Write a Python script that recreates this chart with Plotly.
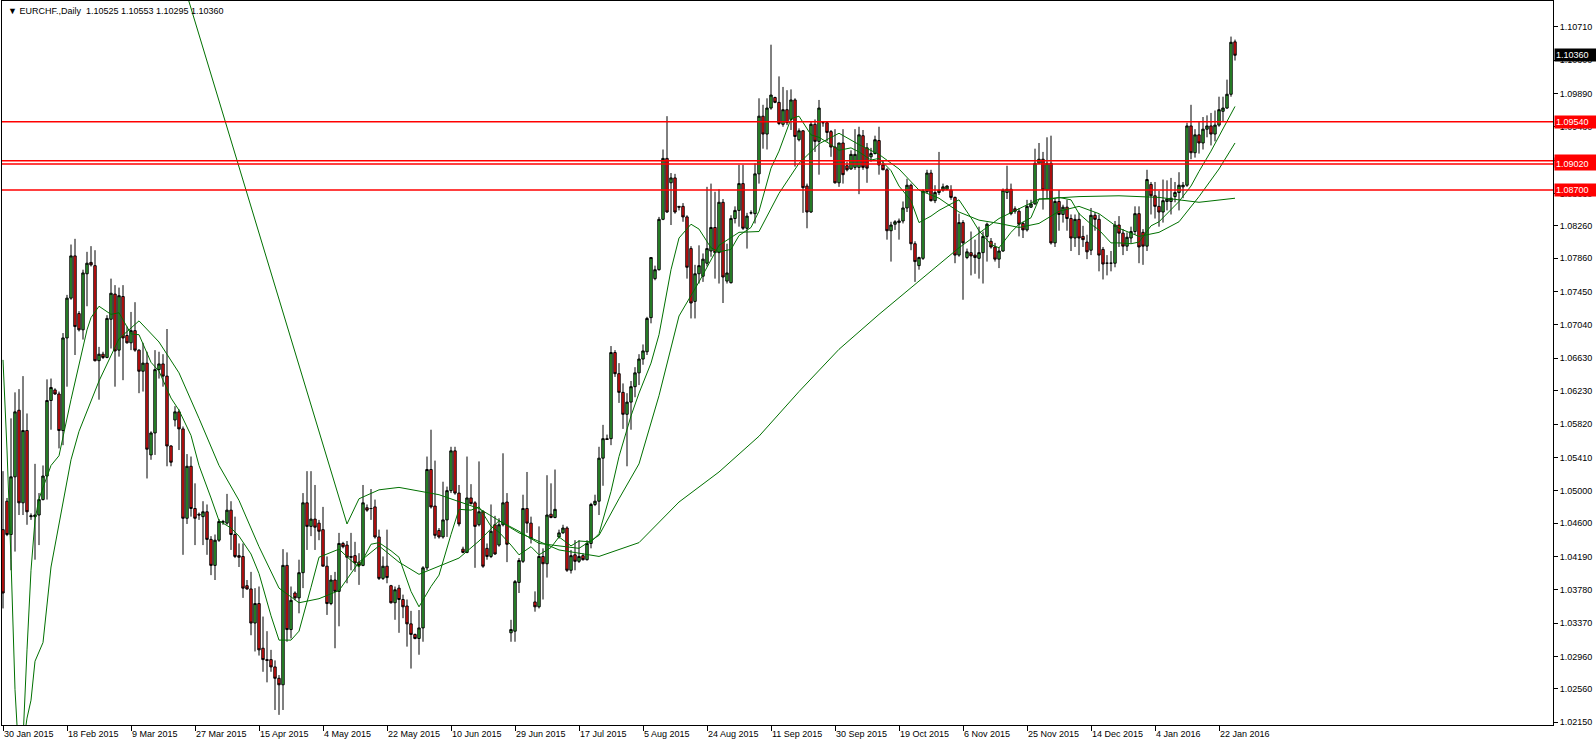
import plotly.graph_objects as go

# ---------------- data (EURCHF daily) ----------------
open_ = [1.0452,1.0487,1.0446,1.0517,1.0599,1.0485,1.0574,1.0468,1.0468,1.0470,
1.0489,1.0518,1.0611,1.0624,1.0619,1.0574,1.0688,1.0737,1.0789,1.0718,
1.0698,1.0767,1.0781,1.0777,1.0660,1.0668,1.0664,1.0711,1.0742,1.0673,
1.0739,1.0691,1.0682,1.0697,1.0673,1.0647,1.0657,1.0544,1.0571,1.0649,
1.0656,1.0641,1.0555,1.0587,1.0597,1.0576,1.0466,1.0530,1.0478,1.0471,
1.0468,1.0474,1.0440,1.0408,1.0439,1.0461,1.0460,1.0476,1.0446,1.0420,
1.0419,1.0383,1.0379,1.0337,1.0361,1.0306,1.0292,1.0292,1.0283,1.0269,
1.0261,1.0408,1.0329,1.0374,1.0368,1.0399,1.0485,1.0456,1.0465,1.0460,
1.0452,1.0407,1.0361,1.0390,1.0376,1.0435,1.0433,1.0419,1.0420,1.0412,
1.0408,1.0479,1.0478,1.0480,1.0443,1.0392,1.0407,1.0383,1.0362,1.0380,
1.0366,1.0358,1.0336,1.0323,1.0318,1.0331,1.0405,1.0526,1.0481,1.0451,
1.0443,1.0464,1.0500,1.0549,1.0497,1.0428,1.0424,1.0491,1.0485,1.0458,
1.0474,1.0429,1.0419,1.0458,1.0433,1.0458,1.0486,1.0325,1.0327,1.0387,
1.0413,1.0478,1.0460,1.0363,1.0357,1.0419,1.0410,1.0471,1.0467,1.0443,
1.0448,1.0454,1.0402,1.0421,1.0413,1.0420,1.0415,1.0435,1.0483,1.0487,
1.0540,1.0564,1.0564,1.0670,1.0644,1.0621,1.0594,1.0609,1.0628,1.0645,
1.0662,1.0671,1.0713,1.0761,1.0772,1.0834,1.0909,1.0879,1.0885,1.0850,
1.0850,1.0837,1.0798,1.0733,1.0767,1.0764,1.0780,1.0795,1.0824,1.0793,
1.0855,1.0758,1.0756,1.0835,1.0845,1.0878,1.0823,1.0842,1.0841,1.0890,
1.0961,1.0939,1.0971,1.0984,1.0978,1.0951,1.0969,1.0957,1.0981,1.0932,
1.0943,1.0875,1.0843,1.0951,1.0930,1.0953,1.0953,1.0942,1.0923,1.0879,
1.0928,1.0900,1.0896,1.0898,1.0898,1.0937,1.0922,1.0911,1.0915,1.0931,
1.0901,1.0895,1.0820,1.0828,1.0830,1.0832,1.0848,1.0876,1.0804,1.0777,
1.0786,1.0868,1.0891,1.0857,1.0867,1.0870,1.0871,1.0870,1.0861,1.0790,
1.0830,1.0787,1.0793,1.0790,1.0786,1.0793,1.0813,1.0807,1.0800,1.0785,
1.0795,1.0867,1.0871,1.0847,1.0844,1.0829,1.0821,1.0849,1.0853,1.0903,
1.0908,1.0870,1.0903,1.0805,1.0856,1.0840,1.0849,1.0835,1.0811,1.0834,
1.0813,1.0806,1.0796,1.0839,1.0834,1.0797,1.0780,1.0780,1.0780,1.0827,
1.0817,1.0801,1.0811,1.0819,1.0841,1.0818,1.0801,1.0877,1.0863,1.0850,
1.0843,1.0856,1.0856,1.0862,1.0867,1.0874,1.0876,1.0949,1.0916,1.0938,
1.0928,1.0945,1.0949,1.0939,1.0950,1.0967,1.0971,1.0988,1.10525]

high = [1.0524,1.0491,1.0589,1.0621,1.0625,1.0641,1.0595,1.0472,1.0533,1.0497,
1.0531,1.0637,1.0638,1.0626,1.0622,1.0694,1.0741,1.0803,1.0810,1.0721,
1.0772,1.0794,1.0801,1.0796,1.0677,1.0671,1.0716,1.0761,1.0753,1.0750,
1.0753,1.0702,1.0720,1.0732,1.0674,1.0682,1.0671,1.0573,1.0673,1.0671,
1.0668,1.0699,1.0556,1.0604,1.0600,1.0579,1.0545,1.0542,1.0509,1.0473,
1.0487,1.0483,1.0444,1.0446,1.0465,1.0464,1.0496,1.0487,1.0468,1.0435,
1.0435,1.0390,1.0400,1.0380,1.0382,1.0345,1.0327,1.0304,1.0291,1.0273,
1.0428,1.0424,1.0382,1.0376,1.0415,1.0497,1.0524,1.0524,1.0507,1.0464,
1.0480,1.0419,1.0396,1.0400,1.0448,1.0437,1.0438,1.0448,1.0437,1.0423,
1.0507,1.0483,1.0502,1.0489,1.0452,1.0419,1.0452,1.0384,1.0382,1.0384,
1.0372,1.0366,1.0352,1.0324,1.0353,1.0407,1.0542,1.0575,1.0537,1.0454,
1.0511,1.0505,1.0554,1.0554,1.0507,1.0431,1.0542,1.0508,1.0487,1.0536,
1.0476,1.0435,1.0483,1.0469,1.0466,1.0546,1.0497,1.0341,1.0390,1.0417,
1.0495,1.0523,1.0468,1.0376,1.0456,1.0429,1.0519,1.0509,1.0526,1.0452,
1.0458,1.0456,1.0427,1.0439,1.0439,1.0423,1.0439,1.0485,1.0495,1.0554,
1.0581,1.0569,1.0678,1.0673,1.0657,1.0632,1.0620,1.0635,1.0652,1.0668,
1.0680,1.0714,1.0787,1.0777,1.0837,1.0920,1.0961,1.0891,1.0890,1.0850,
1.0854,1.0839,1.0801,1.0778,1.0802,1.0792,1.0874,1.0878,1.0868,1.0871,
1.0859,1.0804,1.0839,1.0850,1.0901,1.0901,1.0842,1.0845,1.0903,1.0983,
1.0975,1.0983,1.1049,1.0985,1.1010,1.0997,1.0993,1.0994,1.0983,1.0946,
1.0944,1.0878,1.0955,1.0957,1.0981,1.0955,1.0954,1.0944,1.0945,1.0928,
1.0945,1.0905,1.0919,1.0945,1.0948,1.0944,1.0928,1.0922,1.0937,1.0948,
1.0906,1.0897,1.0831,1.0833,1.0835,1.0856,1.0884,1.0878,1.0807,1.0788,
1.0871,1.0895,1.0895,1.0876,1.0917,1.0878,1.0876,1.0876,1.0862,1.0841,
1.0833,1.0798,1.0819,1.0809,1.0825,1.0819,1.0830,1.0811,1.0805,1.0800,
1.0872,1.0900,1.0878,1.0850,1.0848,1.0831,1.0858,1.0858,1.0921,1.0928,
1.0917,1.0935,1.0937,1.0860,1.0870,1.0852,1.0858,1.0840,1.0840,1.0842,
1.0826,1.0815,1.0848,1.0843,1.0840,1.0800,1.0790,1.0795,1.0832,1.0838,
1.0822,1.0818,1.0825,1.0850,1.0850,1.0822,1.0895,1.0880,1.0880,1.0869,
1.0883,1.0882,1.0885,1.0880,1.0892,1.0880,1.0953,1.0975,1.0945,1.0955,
1.0960,1.0962,1.0965,1.0968,1.0985,1.0985,1.1006,1.1059,1.10553]

low = [1.0355,1.0444,1.0402,1.0425,1.0470,1.0470,1.0458,1.0464,1.0415,1.0433,
1.0488,1.0489,1.0575,1.0618,1.0552,1.0556,1.0628,1.0735,1.0667,1.0696,
1.0686,1.0727,1.0776,1.0659,1.0612,1.0662,1.0663,1.0675,1.0628,1.0665,
1.0636,1.0681,1.0673,1.0671,1.0620,1.0622,1.0515,1.0538,1.0544,1.0638,
1.0628,1.0530,1.0530,1.0579,1.0550,1.0421,1.0459,1.0468,1.0433,1.0464,
1.0433,1.0421,1.0396,1.0390,1.0437,1.0458,1.0458,1.0427,1.0417,1.0406,
1.0368,1.0378,1.0322,1.0302,1.0297,1.0277,1.0264,1.0277,1.0230,1.0224,
1.0230,1.0314,1.0318,1.0365,1.0349,1.0380,1.0427,1.0444,1.0427,1.0439,
1.0407,1.0347,1.0359,1.0306,1.0333,1.0429,1.0386,1.0402,1.0400,1.0384,
1.0407,1.0474,1.0464,1.0441,1.0390,1.0390,1.0386,1.0361,1.0341,1.0325,
1.0343,1.0308,1.0281,1.0317,1.0298,1.0314,1.0402,1.0478,1.0441,1.0441,
1.0441,1.0443,1.0497,1.0495,1.0456,1.0423,1.0423,1.0483,1.0405,1.0456,
1.0405,1.0415,1.0417,1.0421,1.0431,1.0456,1.0412,1.0314,1.0314,1.0374,
1.0411,1.0448,1.0435,1.0351,1.0355,1.0366,1.0393,1.0466,1.0466,1.0441,
1.0447,1.0400,1.0398,1.0402,1.0411,1.0414,1.0414,1.0429,1.0481,1.0470,
1.0506,1.0563,1.0556,1.0640,1.0608,1.0576,1.0530,1.0575,1.0615,1.0630,
1.0655,1.0667,1.0706,1.0759,1.0771,1.0833,1.0842,1.0827,1.0841,1.0845,
1.0831,1.0761,1.0712,1.0712,1.0755,1.0757,1.0776,1.0788,1.0761,1.0755,
1.0731,1.0755,1.0755,1.0829,1.0825,1.0821,1.0798,1.0840,1.0829,1.0878,
1.0921,1.0920,1.0969,1.0977,1.0950,1.0948,1.0950,1.0944,1.0899,1.0930,
1.0842,1.0823,1.0842,1.0917,1.0889,1.0948,1.0930,1.0911,1.0878,1.0874,
1.0878,1.0893,1.0895,1.0895,1.0865,1.0895,1.0879,1.0905,1.0914,1.0889,
1.0895,1.0809,1.0782,1.0821,1.0809,1.0829,1.0843,1.0796,1.0757,1.0772,
1.0784,1.0866,1.0856,1.0854,1.0864,1.0868,1.0870,1.0858,1.0780,1.0788,
1.0735,1.0785,1.0765,1.0767,1.0761,1.0755,1.0782,1.0798,1.0782,1.0774,
1.0794,1.0859,1.0839,1.0841,1.0813,1.0811,1.0819,1.0848,1.0852,1.0903,
1.0846,1.0860,1.0803,1.0800,1.0820,1.0830,1.0820,1.0795,1.0800,1.0790,
1.0800,1.0785,1.0790,1.0820,1.0770,1.0760,1.0765,1.0770,1.0775,1.0800,
1.0790,1.0795,1.0805,1.0815,1.0780,1.0778,1.0795,1.0840,1.0835,1.0825,
1.0830,1.0845,1.0840,1.0855,1.0845,1.0860,1.0874,1.0908,1.0910,1.0915,
1.0920,1.0935,1.0925,1.0930,1.0948,1.0955,1.0970,1.0985,1.10295]

close = [1.0374,1.0446,1.0517,1.0597,1.0485,1.0574,1.0474,1.0469,1.0470,1.0489,
1.0518,1.0611,1.0627,1.0619,1.0574,1.0688,1.0737,1.0789,1.0702,1.0698,
1.0768,1.0780,1.0778,1.0660,1.0668,1.0664,1.0712,1.0743,1.0672,1.0740,
1.0688,1.0682,1.0697,1.0673,1.0647,1.0657,1.0551,1.0571,1.0649,1.0656,
1.0641,1.0555,1.0535,1.0597,1.0576,1.0466,1.0530,1.0478,1.0466,1.0470,
1.0474,1.0440,1.0408,1.0439,1.0462,1.0462,1.0476,1.0446,1.0419,1.0418,
1.0380,1.0379,1.0337,1.0361,1.0304,1.0292,1.0291,1.0283,1.0269,1.0261,
1.0408,1.0329,1.0365,1.0368,1.0399,1.0485,1.0456,1.0465,1.0455,1.0450,
1.0407,1.0361,1.0390,1.0376,1.0435,1.0431,1.0418,1.0418,1.0411,1.0408,
1.0485,1.0476,1.0478,1.0443,1.0392,1.0407,1.0393,1.0362,1.0378,1.0366,
1.0357,1.0336,1.0323,1.0318,1.0331,1.0405,1.0526,1.0480,1.0445,1.0443,
1.0464,1.0500,1.0549,1.0497,1.0459,1.0424,1.0491,1.0484,1.0456,1.0474,
1.0407,1.0419,1.0450,1.0422,1.0458,1.0485,1.0434,1.0329,1.0388,1.0414,
1.0478,1.0460,1.0441,1.0357,1.0419,1.0410,1.0470,1.0467,1.0477,1.0448,
1.0454,1.0402,1.0420,1.0413,1.0419,1.0415,1.0435,1.0483,1.0487,1.0540,
1.0564,1.0563,1.0670,1.0644,1.0621,1.0594,1.0609,1.0628,1.0645,1.0662,
1.0672,1.0712,1.0787,1.0772,1.0834,1.0909,1.0843,1.0885,1.0843,1.0849,
1.0837,1.0775,1.0731,1.0767,1.0777,1.0785,1.0798,1.0824,1.0793,1.0855,
1.0763,1.0768,1.0835,1.0845,1.0878,1.0823,1.0838,1.0842,1.0890,1.0961,
1.0939,1.0971,1.0987,1.0978,1.0952,1.0969,1.0953,1.0981,1.0936,1.0943,
1.0873,1.0843,1.0951,1.0930,1.0971,1.0953,1.0941,1.0923,1.0879,1.0928,
1.0889,1.0895,1.0914,1.0914,1.0938,1.0898,1.0897,1.0915,1.0932,1.0901,
1.0895,1.0820,1.0827,1.0831,1.0832,1.0848,1.0876,1.0804,1.0782,1.0787,
1.0869,1.0891,1.0857,1.0867,1.0870,1.0874,1.0875,1.0861,1.0790,1.0830,
1.0805,1.0794,1.0789,1.0787,1.0793,1.0813,1.0828,1.0800,1.0785,1.0795,
1.0870,1.0871,1.0841,1.0844,1.0828,1.0821,1.0850,1.0853,1.0903,1.0908,
1.0870,1.0903,1.0805,1.0856,1.0840,1.0849,1.0835,1.0811,1.0834,1.0811,
1.0809,1.0794,1.0839,1.0834,1.0790,1.0779,1.0780,1.0780,1.0827,1.0817,
1.0801,1.0812,1.0819,1.0841,1.0800,1.0801,1.0883,1.0863,1.0850,1.0843,
1.0857,1.0859,1.0860,1.0867,1.0876,1.0876,1.0949,1.0916,1.0938,1.0928,
1.0945,1.0949,1.0939,1.0950,1.0969,1.0971,1.0988,1.1052,1.1036]

# moving averages (values read at sample bars)
ma_fast_bar = [0,1,2,3,4,5,6,7,8,9,
12,14,17,19,21,22,24,27,29,32,
34,37,39,42,44,47,49,52,54,57,
59,62,64,67,69,72,74,77,79,82,
84,87,89,92,94,97,99,102,104,107,
109,112,114,117,119,122,124,127,129,132,
134,137,139,142,144,147,149,152,154,157,
159,162,164,167,169,172,174,177,179,182,
184,187,189,192,194,197,199,202,204,207,
209,212,214,217,219,222,224,227,229,232,
234,237,239,242,244,247,249,252,254,257,
259,262,264,267,269,272,274,277,279,282,
284,287,289,292,294,297,299,302,304,307,
308]
ma_fast_val = [1.0661,1.0550,1.0415,1.0255,1.0168,1.0193,1.0304,1.0402,1.0464,1.0490,
1.0531,1.0543,1.0612,1.0656,1.0698,1.0713,1.0727,1.0717,1.0719,1.0693,
1.0692,1.0658,1.0647,1.0614,1.0599,1.0568,1.0531,1.0491,1.0463,1.0454,
1.0444,1.0422,1.0398,1.0346,1.0316,1.0316,1.0327,1.0381,1.0418,1.0424,
1.0428,1.0414,1.0406,1.0434,1.0436,1.0426,1.0418,1.0376,1.0357,1.0382,
1.0396,1.0446,1.0477,1.0476,1.0480,1.0456,1.0449,1.0433,1.0421,1.0431,
1.0421,1.0430,1.0443,1.0432,1.0438,1.0437,1.0447,1.0499,1.0542,1.0592,
1.0620,1.0657,1.0692,1.0772,1.0811,1.0828,1.0822,1.0799,1.0794,1.0797,
1.0814,1.0824,1.0844,1.0897,1.0918,1.0958,1.0961,1.0938,1.0935,1.0926,
1.0919,1.0922,1.0917,1.0907,1.0909,1.0894,1.0875,1.0857,1.0830,1.0838,
1.0845,1.0853,1.0858,1.0836,1.0820,1.0803,1.0799,1.0818,1.0828,1.0836,
1.0859,1.0859,1.0861,1.0858,1.0841,1.0828,1.0821,1.0805,1.0805,1.0804,
1.0806,1.0826,1.0831,1.0846,1.0856,1.0875,1.0893,1.0918,1.0936,1.0963,
1.0973]

ma_mid_bar = [0,4,6,7,8,10,12,15,17,19,24,29,34,39,44,49,54,59,64,69,74,79,84,89,94,99,104,109,
114,119,124,129,134,139,144,149,154,159,164,169,174,179,184,189,194,199,204,209,214,219,224,229,
234,239,244,249,254,259,264,269,274,279,284,289,294,299,304,308]
ma_mid_val = [1.0100,1.0150,1.0220,1.0242,1.0290,1.0313,1.0406,1.0488,1.0538,1.0573,1.0635,1.0687,
1.0709,1.0683,1.0645,1.0589,1.0531,1.0488,1.0431,1.0380,1.0362,1.0367,1.0377,1.0412,1.0432,1.0412,
1.0397,1.0407,1.0417,1.0438,1.0463,1.0450,1.0435,1.0432,1.0429,1.0445,1.0490,1.0533,1.0617,1.0715,
1.0757,1.0802,1.0818,1.0819,1.0866,1.0903,1.0927,1.0940,1.0926,1.0914,1.0896,1.0870,1.0860,1.0843,
1.0833,1.0829,1.0824,1.0829,1.0844,1.0850,1.0841,1.0823,1.0813,1.0818,1.0831,1.0862,1.0896,1.0928]

ma_slow_bar = [0,86,89,94,99,109,119,129,139,149,159,169,179,189,199,209,219,229,239,249,259,269,279,289,299,308]
ma_slow_val = [1.1859,1.0459,1.0490,1.0501,1.0504,1.0495,1.0478,1.0448,1.0427,1.0419,1.0436,1.0486,
1.0523,1.0567,1.0622,1.0674,1.0717,1.0758,1.0799,1.0835,1.0859,1.0862,1.0863,1.0861,1.0855,1.0860]

date_labels = ["30 Jan 2015","18 Feb 2015","9 Mar 2015","27 Mar 2015","15 Apr 2015","4 May 2015",
"22 May 2015","10 Jun 2015","29 Jun 2015","17 Jul 2015","5 Aug 2015","24 Aug 2015","11 Sep 2015",
"30 Sep 2015","19 Oct 2015","6 Nov 2015","25 Nov 2015","14 Dec 2015","4 Jan 2016","22 Jan 2016"]
bars_per_label = 16

price_ticks = [1.10710,1.10300,1.09890,1.09480,1.09070,1.08660,1.08260,1.07860,1.07450,1.07040,
1.06630,1.06230,1.05820,1.05410,1.05000,1.04600,1.04190,1.03780,1.03370,1.02960,1.02560,1.02150]

levels = [1.0954, 1.0906, 1.0902, 1.0870]
level_labels = ["1.09540", "1.09060", "1.09020", "1.08700"]
last_price = 1.10360
title_text = "EURCHF.,Daily  1.10525 1.10553 1.10295 1.10360"

# ---------------- figure ----------------
bars = list(range(len(close)))
FONT = "Liberation Sans, Arial, sans-serif"

fig = go.Figure()
fig.add_trace(go.Candlestick(
    x=bars, open=open_, high=high, low=low, close=close,
    increasing=dict(line=dict(color="black", width=1), fillcolor="#36b036"),
    decreasing=dict(line=dict(color="black", width=1), fillcolor="#f41414"),
    whiskerwidth=0, hoverinfo="skip", showlegend=False))

for xs, ys in [(ma_slow_bar, ma_slow_val), (ma_mid_bar, ma_mid_val), (ma_fast_bar, ma_fast_val)]:
    fig.add_trace(go.Scatter(x=xs, y=ys, mode="lines",
                             line=dict(color="#007000", width=1), hoverinfo="skip", showlegend=False))

shapes = []
for lv in levels:
    shapes.append(dict(type="line", xref="paper", x0=0, x1=1, yref="y", y0=lv, y1=lv,
                       line=dict(color="#ff0000", width=1.5), layer="above"))

annotations = []
for lv, lab in zip(levels, level_labels):
    annotations.append(dict(xref="paper", x=1, xanchor="left", xshift=1, yref="y", y=lv,
                            text=lab, showarrow=False, font=dict(family=FONT, size=9, color="white"),
                            bgcolor="#ff0000", borderpad=1, width=40, align="left"))
annotations.append(dict(xref="paper", x=1, xanchor="left", xshift=1, yref="y", y=last_price,
                        text="1.10360", showarrow=False, font=dict(family=FONT, size=9, color="white"),
                        bgcolor="black", borderpad=1, width=40, align="left"))
annotations.append(dict(xref="paper", x=0, xanchor="left", xshift=4, yref="paper", y=1,
                        yanchor="top", yshift=-3, text="\u25bc " + title_text, showarrow=False,
                        font=dict(family=FONT, size=9, color="black")))

fig.update_layout(
    width=1596, height=744,
    margin=dict(l=2, r=43, t=1, b=19, pad=0),
    paper_bgcolor="white", plot_bgcolor="white",
    boxgap=0.15,
    shapes=shapes, annotations=annotations,
    xaxis=dict(range=[-0.25, 387.5], tickmode="array",
               tickvals=[i * bars_per_label for i in range(len(date_labels))], ticktext=date_labels,
               ticks="outside", ticklen=5, tickcolor="black", ticklabelposition="outside right",
               showline=True, linecolor="black", linewidth=1, mirror=True,
               showgrid=False, zeroline=False, rangeslider=dict(visible=False),
               tickfont=dict(family=FONT, size=9, color="black")),
    yaxis=dict(range=[1.02115, 1.11028], side="right", tickmode="array",
               tickvals=price_ticks, ticktext=["%.5f" % v for v in price_ticks],
               ticks="outside", ticklen=4, tickcolor="black",
               showline=True, linecolor="black", linewidth=1, mirror=True,
               showgrid=False, zeroline=False,
               tickfont=dict(family=FONT, size=9, color="black")),
)

fig.write_html("out.html", config={"displayModeBar": False},
               post_script="document.body.style.margin='0';document.body.style.overflow='hidden';")
